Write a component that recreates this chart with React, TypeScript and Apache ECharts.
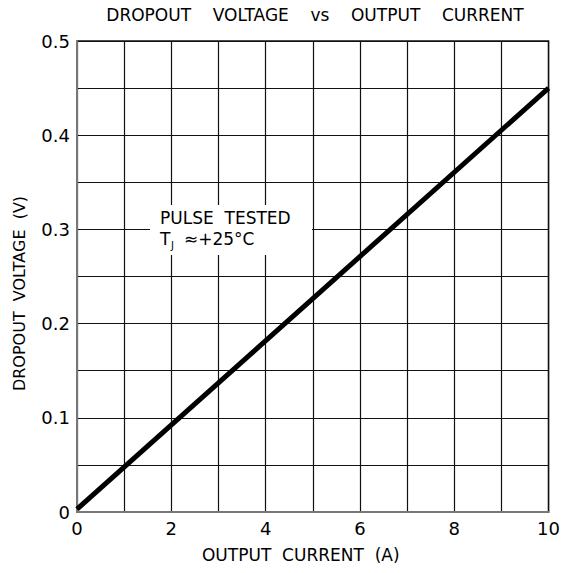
import React, { useEffect, useRef } from "react";
import * as echarts from "echarts";

const currentA = [0, 10];
const dropoutV = [0.003, 0.45];
const xTickLabels = ["0", "2", "4", "6", "8", "10"];
const yTickLabels = ["0", "0.1", "0.2", "0.3", "0.4", "0.5"];

const FONT = "'DejaVu Sans', sans-serif";

export default function App() {
  const ref = useRef<HTMLDivElement>(null);
  useEffect(() => {
    if (!ref.current) return;
    const chart = echarts.init(ref.current, undefined, { renderer: "svg" });
    chart.setOption({
      animation: false,
      backgroundColor: "#fff",
      title: {
        text: "DROPOUT    VOLTAGE    vs    OUTPUT    CURRENT",
        left: 310,
        top: 1,
        textAlign: "center",
        textStyle: { fontFamily: FONT, fontSize: 17, fontWeight: "normal", color: "#000" },
      },
      grid: { left: 77, right: 13, top: 41, bottom: 61, show: true, borderColor: "#111", borderWidth: 1.5 },
      xAxis: {
        type: "value",
        min: 0,
        max: 10,
        interval: 1,
        name: "OUTPUT  CURRENT  (A)",
        nameLocation: "middle",
        nameGap: 34,
        nameTextStyle: { fontFamily: FONT, fontSize: 17, color: "#000", padding: [0, 24, 0, 0] },
        axisLine: { show: true, lineStyle: { color: "#777", width: 2 } },
        axisTick: { show: false },
        axisLabel: {
          fontFamily: FONT,
          fontSize: 18,
          color: "#000",
          margin: 7,
          formatter: (v: number) => (Math.round(v) % 2 === 0 ? xTickLabels[Math.round(v) / 2] : ""),
        },
        splitLine: { show: true, lineStyle: { color: "#111", width: 1.2 } },
      },
      yAxis: {
        type: "value",
        min: 0,
        max: 0.5,
        interval: 0.05,
        name: "DROPOUT  VOLTAGE  (V)",
        nameLocation: "middle",
        nameGap: 50,
        nameTextStyle: { fontFamily: FONT, fontSize: 16, color: "#000", padding: [0, 34, 0, 0] },
        axisLine: { show: true, lineStyle: { color: "#777", width: 2 } },
        axisTick: { show: false },
        axisLabel: {
          fontFamily: FONT,
          fontSize: 18,
          color: "#000",
          margin: 7,
          formatter: (v: number) => {
            const k = Math.round(v * 100);
            return k % 10 === 0 ? yTickLabels[k / 10] : "";
          },
        },
        splitLine: { show: true, lineStyle: { color: "#111", width: 1.2 } },
      },
      graphic: [
        { type: "rect", shape: { x: 150, y: 205, width: 162, height: 50 }, style: { fill: "#fff" }, z: 10 },
        {
          type: "text",
          x: 160,
          y: 209,
          style: { text: "PULSE  TESTED", font: `17px ${FONT}`, fill: "#000" },
          z: 11,
        },
        { type: "text", x: 160, y: 230, style: { text: "T", font: `17px ${FONT}`, fill: "#000" }, z: 11 },
        { type: "text", x: 171, y: 240, style: { text: "J", font: `10px ${FONT}`, fill: "#000" }, z: 11 },
        { type: "text", x: 184, y: 230, style: { text: "≈+25°C", font: `17px ${FONT}`, fill: "#000" }, z: 11 },
      ],
      series: [
        {
          type: "line",
          data: currentA.map((x, i) => [x, dropoutV[i]]),
          showSymbol: false,
          lineStyle: { color: "#000", width: 5 },
          z: 20,
        },
      ],
    });
    return () => chart.dispose();
  }, []);
  return <div ref={ref} style={{ width: 563, height: 573, position: "absolute", left: 0, top: 0 }} />;
}
